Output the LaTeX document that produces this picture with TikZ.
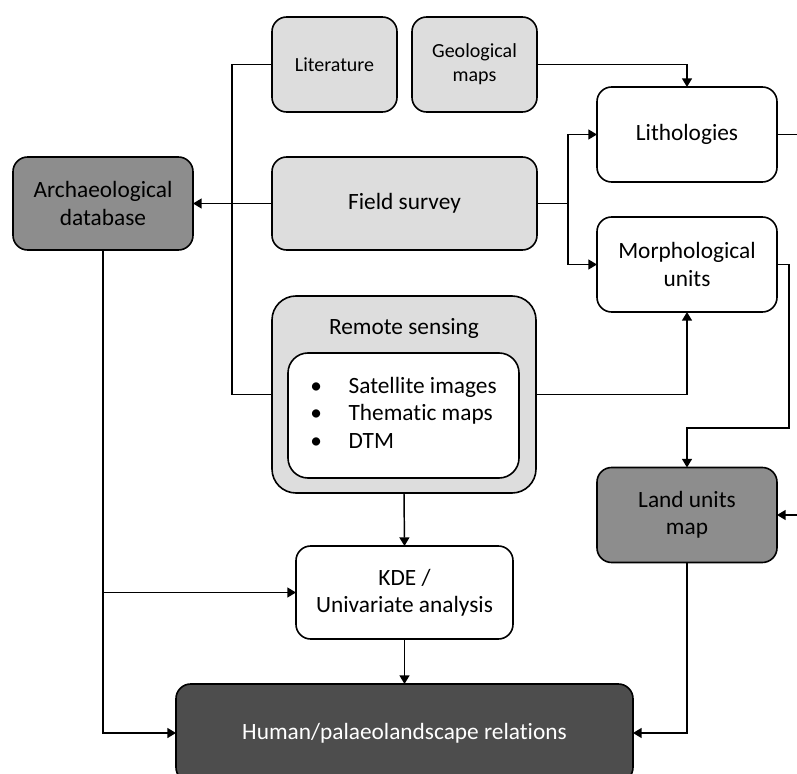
\documentclass[tikz,border=0pt]{standalone}
\usepackage{fontspec}
\setmainfont{Carlito}[Ligatures=CommonOff]
\usepackage{tikz}
\usetikzlibrary{arrows.meta}

\definecolor{boxlight}{RGB}{221,221,221}
\definecolor{boxmid}{RGB}{141,141,141}
\definecolor{boxdark}{RGB}{77,77,77}

\begin{document}
\begin{tikzpicture}[x=0.75pt,y=-0.75pt,
  box/.style={draw=black,line width=1.2pt,rounded corners=11pt,align=center,outer sep=0pt,inner sep=2pt,font=\fontsize{17.5}{20.5}\selectfont},
  small/.style={font=\fontsize{15}{18}\selectfont},
  conn/.style={line width=1.1pt},
  arr/.style={conn,-{Triangle[length=6.5pt,width=7.5pt]}}]
\useasboundingbox (0,0) rectangle (797,774);

\node[box,fill=boxlight,small,minimum width=93.75pt,minimum height=71.25pt] (lit) at (334.5,64.5) {Literature};
\node[box,fill=boxlight,small,minimum width=93.75pt,minimum height=71.25pt] (geo) at (474.5,64.5) {Geological\\maps};
\node[box,fill=white,minimum width=135pt,minimum height=71.25pt] (litho) at (687,134.5) {Lithologies};
\node[box,fill=boxmid,minimum width=135pt,minimum height=69.75pt] (arch) at (103,203.5) {Archaeological\\database};
\node[box,fill=boxlight,minimum width=198.75pt,minimum height=69.75pt] (field) at (404.5,203.5) {Field survey};
\node[box,fill=white,minimum width=135pt,minimum height=71.25pt] (morph) at (687,264.5) {Morphological\\units};
\node[box,fill=boxlight,rounded corners=18pt,minimum width=198pt,minimum height=147.75pt] (rs) at (404,394.5) {};
\node[font=\fontsize{17.5}{20.5}\selectfont] (rstitle) at (404,328) {Remote sensing};
\node[box,fill=white,rounded corners=15pt,minimum width=173.25pt,minimum height=93.75pt] (rslist) at (403.5,415.5)
  {\begin{tabular}{@{}l@{\hspace{20pt}}l@{}}
   \textbullet & Satellite images\\
   \textbullet & Thematic maps\\
   \textbullet & DTM
   \end{tabular}};
\node[box,fill=boxmid,minimum width=135pt,minimum height=71.25pt] (land) at (687,515) {Land units\\map};
\node[box,fill=white,minimum width=162.75pt,minimum height=69.75pt] (kde) at (404.5,592.5) {KDE /\\Univariate analysis};
\node[box,fill=boxdark,text=white,minimum width=342.75pt,minimum height=73.5pt] (human) at (404.5,733) {Human/palaeolandscape relations};

\coordinate (bus) at (232,203.5);
\coordinate (split) at (568,203.5);
\coordinate (litout) at (797,134.5);
\coordinate (mbend) at (789,428);
\coordinate (landin) at (797,515);

\draw[conn] (lit.west) -| (bus) |- (rs.west);
\draw[arr] (field.west) -- (arch.east);
\draw[arr] (geo.east) -| (litho.north);
\draw[conn] (field.east) -- (split);
\draw[arr] (split) |- (litho.west);
\draw[arr] (split) |- (morph.west);
\draw[arr] (rs.east) -| (morph.south);
\draw[conn] (litho.east) -- (litout);
\draw[arr] (morph.east) -| (mbend) -| (land.north);
\draw[arr] (landin) -- (land.east);
\draw[arr] (land.south) |- (human.east);
\draw[arr] (rs.south) -- (kde.north);
\draw[arr] (kde.south) -- (human.north);
\draw[arr] (arch.south) |- (human.west);
\draw[arr] (arch.south |- kde.west) -- (kde.west);
\end{tikzpicture}
\end{document}
